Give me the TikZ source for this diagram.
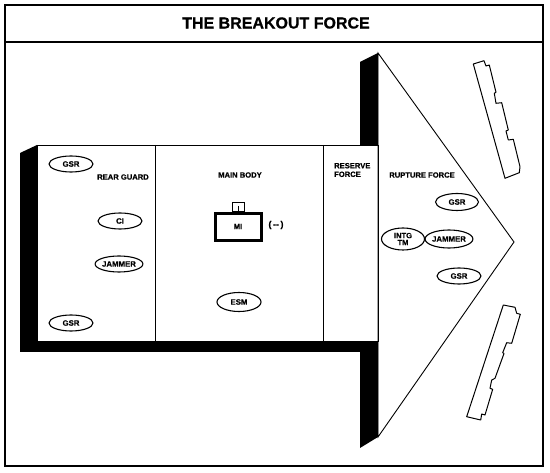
\documentclass[tikz,border=0pt]{standalone}
\usepackage{fontspec}
\setmainfont{Liberation Sans}
\newfontfamily\hv[FakeBold=0.6]{Liberation Sans Bold}
\usetikzlibrary{shapes.geometric}
\begin{document}
\begin{tikzpicture}[x=1pt,y=-1pt,
  lbl/.style={font=\hv\fontsize{7.6}{8.6}\selectfont, inner sep=0pt},
  unit/.style={ellipse, draw, line width=1.1pt, minimum width=44pt, minimum height=16pt, inner sep=0pt, align=center, font=\hv\fontsize{7.8}{7.6}\selectfont},
  thinline/.style={line width=0.9pt},
  obst/.style={line width=1pt, line join=round}]
\useasboundingbox (0,0) rectangle (550,473);
% frame
\draw[line width=2pt] (5,5) rectangle (543,466);
\draw[line width=2pt] (5,42) -- (543,42);
\node[font=\hv\fontsize{16}{18}\selectfont, inner sep=0pt] (title) at (276,23) {THE BREAKOUT FORCE};
% shadow
\fill[black] (20,153) -- (37,145) -- (37,341) -- (378,341) -- (378,437) -- (360,448) -- (360,352) -- (20,352) -- cycle;
\fill[black] (360,62) -- (378,53) -- (378,145) -- (360,145) -- cycle;
% body
\draw[thinline, fill=white] (37,145) rectangle (378,341);
\draw[thinline] (378,53) -- (514,242) -- (378,437) -- cycle;
\draw[thinline] (155,145) -- (155,341);
\draw[thinline] (323,145) -- (323,341);
% rear guard
\node[lbl] (rg) at (123,177) {REAR GUARD};
\node[unit] (gsr1) at (71,164) {GSR};
\node[unit] (ci) at (120,221) {CI};
\node[unit, minimum width=45pt] (jam1) at (119,264) {JAMMER};
\node[unit] (gsr2) at (71,323) {GSR};
% main body
\node[lbl] (mb) at (240,175) {MAIN BODY};
\draw[line width=2.8pt] (215.4,213.4) rectangle (261.6,240.6);
\draw[line width=1pt] (232.5,202.5) rectangle (244.5,212);
\draw[line width=1pt] (238.5,206) -- (238.5,212);
\node[lbl] (mi) at (238,226.5) {MI};
\node[lbl, font=\hv\fontsize{9}{10}\selectfont] (minus) at (276,225) {(\,--\,)};
\node[unit, minimum height=19pt] (esm) at (239,302) {ESM};
% reserve
\node[lbl, anchor=west, align=left] (rf) at (334,170) {RESERVE\\FORCE};
% rupture
\node[lbl] (rup) at (422,175) {RUPTURE FORCE};
\node[unit, minimum width=43pt, minimum height=17pt] (gsr3) at (457,202) {GSR};
\node[unit, minimum width=43pt, minimum height=22pt, font=\hv\fontsize{7.6}{7}\selectfont] (intg) at (403,239) {INTG\\TM};
\node[unit, minimum width=44pt, minimum height=18pt] (jam2) at (449,239) {JAMMER};
\node[unit] (gsr4) at (459,276) {GSR};
% obstacles
\draw[obst] (473.3,64) -- (484,60.7) -- (486,66) -- (489.3,65) -- (496,92.3) -- (494.3,93.3)
  -- (496,103.3) -- (501.7,102.7) -- (508.3,130) -- (506,131) -- (508.3,140) -- (513.3,139.3)
  -- (520,166.7) -- (519.3,172.7) -- (505,178.3) -- cycle;
\draw[obst] (503.3,305) -- (515,307.3) -- (516.7,313.3) -- (520.3,314.3) -- (511.7,343.3) -- (506.7,342.7)
  -- (502.7,352.7) -- (504,353.5) -- (495,378.3) -- (491.7,380) -- (490,388.3) -- (492.7,389.3)
  -- (485,415) -- (481.7,414) -- (480.7,420) -- (466.7,416.7) -- cycle;
\end{tikzpicture}
\end{document}
